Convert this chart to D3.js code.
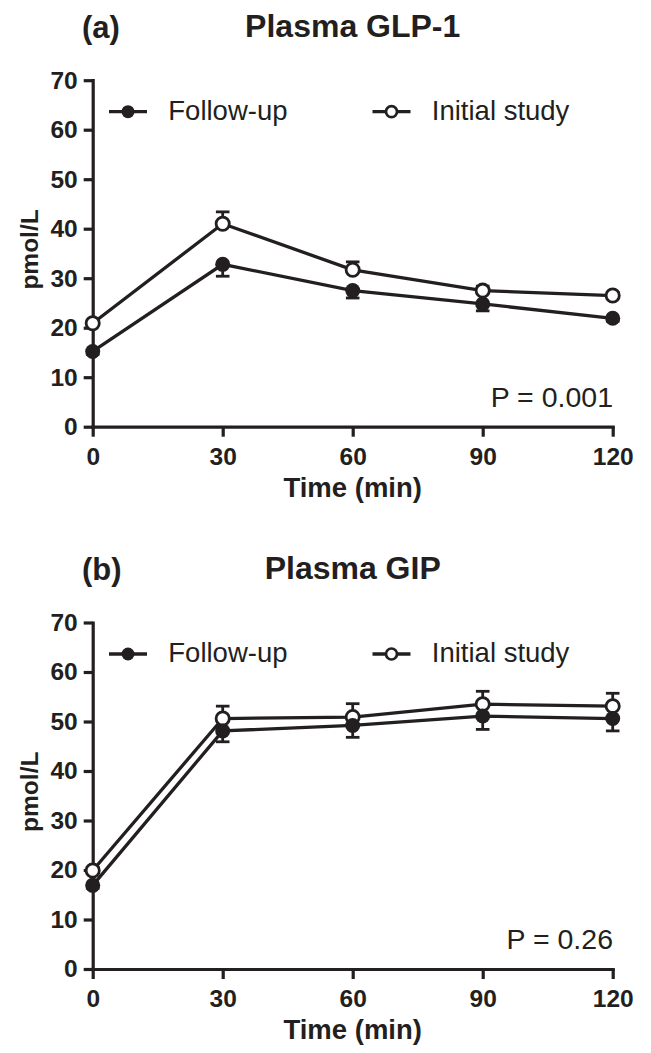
<!DOCTYPE html>
<html>
<head>
<meta charset="utf-8">
<script src="https://cdn.jsdelivr.net/npm/d3@7"></script>
<style>
  body { margin: 0; background: #fff; }
  svg { display: block; font-family: "Liberation Sans", Arial, sans-serif; }
</style>
</head>
<body>
<svg id="chart" width="651" height="1053"></svg>
<script>
// time points (min) and y ticks shared by both panels
var times = [0, 30, 60, 90, 120];
var yTicks = [0, 10, 20, 30, 40, 50, 60, 70];
var seriesNames = ["Follow-up", "Initial study"];

// (a) Plasma GLP-1, pmol/L
var glpFollow = [15.2, 32.8, 27.5, 24.8, 21.9];
var glpFollowErr = [0.6, 2.4, 1.5, 1.4, 0.6];
var glpInitial = [20.9, 41.0, 31.7, 27.5, 26.5];
var glpInitialErr = [0.6, 2.4, 1.6, 0.9, 0.6];

// (b) Plasma GIP, pmol/L
var gipFollow = [16.9, 48.1, 49.2, 51.1, 50.6];
var gipFollowErr = [0.6, 2.2, 2.4, 2.7, 2.5];
var gipInitial = [19.9, 50.6, 50.9, 53.5, 53.1];
var gipInitialErr = [0.6, 2.5, 2.7, 2.6, 2.6];

var ink = "#231f20";
var svg = d3.select("#chart");
svg.append("rect").attr("width", 651).attr("height", 1053).attr("fill", "#fff");

var x = d3.scaleLinear().domain([0, 120]).range([92.7, 612.7]);
var y = d3.scaleLinear().domain([0, 70]).range([426.7, 80.2]);

function drawPanel(offset, label, title, follow, followErr, initial, initialErr, pText) {
    var g = svg.append("g").attr("transform", "translate(0," + offset + ")");

    g.append("text").attr("x", 82).attr("y", 38)
        .attr("font-size", 31).attr("font-weight", "bold").attr("fill", ink)
        .text(label);
    g.append("text").attr("x", 352.7).attr("y", 36.5)
        .attr("text-anchor", "middle")
        .attr("font-size", 32).attr("font-weight", "bold").attr("fill", ink)
        .text(title);

    // axes
    var yAxis = g.append("g").attr("transform", "translate(" + x(0) + ",0)")
        .call(d3.axisLeft(y).tickValues(yTicks).tickSizeInner(9).tickSizeOuter(0).tickPadding(6));
    var xAxis = g.append("g").attr("transform", "translate(0," + y(0) + ")")
        .call(d3.axisBottom(x).tickValues(times).tickSizeInner(10).tickSizeOuter(0).tickPadding(11));

    [yAxis, xAxis].forEach(function(a) {
        a.select(".domain").attr("stroke", ink).attr("stroke-width", 3.2).attr("stroke-linecap", "square");
        a.selectAll(".tick line").attr("stroke", ink).attr("stroke-width", 3.2);
        a.selectAll(".tick text").attr("fill", ink)
            .attr("font-size", 24.5).attr("font-weight", "bold")
            .attr("font-family", "'Liberation Sans', Arial, sans-serif");
    });
    xAxis.selectAll(".tick text").attr("dy", "0.71em");

    g.append("text").attr("x", 352.7).attr("y", 497)
        .attr("text-anchor", "middle")
        .attr("font-size", 27.5).attr("font-weight", "bold").attr("fill", ink)
        .text("Time (min)");
    g.append("text")
        .attr("transform", "translate(38," + ((y(0) + y(70)) / 2 - 4) + ") rotate(-90)")
        .attr("text-anchor", "middle")
        .attr("font-size", 24.5).attr("font-weight", "bold").attr("fill", ink)
        .text("pmol/L");

    g.append("text").attr("x", 613).attr("y", 406.5)
        .attr("text-anchor", "end")
        .attr("font-size", 28.5).attr("fill", ink)
        .text(pText);

    var line = d3.line()
        .x(function(d, i) { return x(times[i]); })
        .y(function(d) { return y(d); });

    var groups = [
        { vals: initial, err: initialErr, dir: 1, open: true },
        { vals: follow, err: followErr, dir: -1, open: false }
    ];

    groups.forEach(function(s) {
        g.append("path").datum(s.vals)
            .attr("fill", "none").attr("stroke", ink).attr("stroke-width", 3.3)
            .attr("d", line);
    });

    groups.forEach(function(s) {
        var eg = g.append("g");
        s.vals.forEach(function(v, i) {
            var end = v + s.dir * s.err[i];
            eg.append("line")
                .attr("x1", x(times[i])).attr("x2", x(times[i]))
                .attr("y1", y(v)).attr("y2", y(end))
                .attr("stroke", ink).attr("stroke-width", 2.8);
            eg.append("line")
                .attr("x1", x(times[i]) - 6.8).attr("x2", x(times[i]) + 6.8)
                .attr("y1", y(end)).attr("y2", y(end))
                .attr("stroke", ink).attr("stroke-width", 2.8);
        });
        eg.selectAll("circle")
            .data(s.vals)
            .enter().append("circle")
            .attr("cx", function(d, i) { return x(times[i]); })
            .attr("cy", function(d) { return y(d); })
            .attr("r", s.open ? 6.6 : 7.5)
            .attr("fill", s.open ? "#fff" : ink)
            .attr("stroke", s.open ? ink : "none")
            .attr("stroke-width", 2.8);
    });

    // legend
    var legend = [
        { name: seriesNames[0], x0: 109, open: false },
        { name: seriesNames[1], x0: 372.5, open: true }
    ];
    legend.forEach(function(l) {
        var lg = g.append("g").attr("transform", "translate(" + l.x0 + ",111.7)");
        lg.append("line").attr("x1", 0).attr("x2", 38)
            .attr("stroke", ink).attr("stroke-width", 3.3);
        lg.append("circle").attr("cx", 19).attr("r", l.open ? 5.5 : 6.5)
            .attr("fill", l.open ? "#fff" : ink)
            .attr("stroke", l.open ? ink : "none")
            .attr("stroke-width", 2.7);
        lg.append("text").attr("x", 59.3).attr("y", 8.3)
            .attr("font-size", 27.5).attr("fill", ink)
            .text(l.name);
    });
}

drawPanel(0, "(a)", "Plasma GLP-1", glpFollow, glpFollowErr, glpInitial, glpInitialErr, "P = 0.001");
drawPanel(542.3, "(b)", "Plasma GIP", gipFollow, gipFollowErr, gipInitial, gipInitialErr, "P = 0.26");
</script>
</body>
</html>
